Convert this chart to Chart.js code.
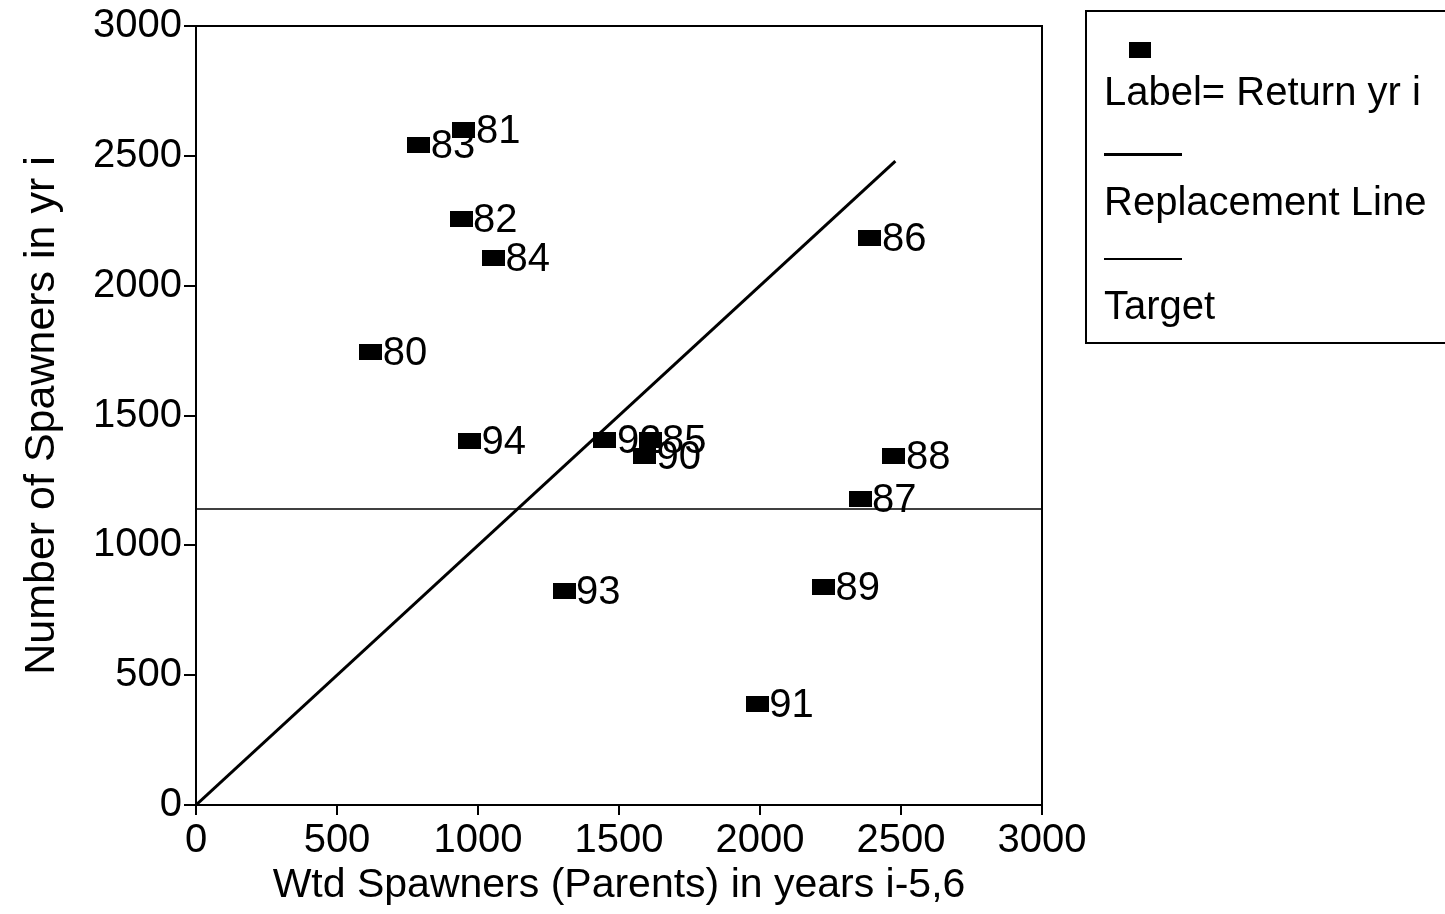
<!DOCTYPE html>
<html>
<head>
<meta charset="utf-8">
<script src="https://cdn.jsdelivr.net/npm/chart.js@4"></script>
<style>
  body { margin: 0; background: #fff; }
  #wrap { position: relative; width: 1445px; height: 914px; overflow: hidden; }
  #legendBox {
    position: absolute; left: 1085px; top: 10px; width: 400px; height: 330px;
    border: 2px solid #000; font-family: "Liberation Sans", Arial, sans-serif;
    font-size: 40px; color: #000;
  }
  #legendBox .mark { position: absolute; left: 42px; top: 30px; width: 22px; height: 16px; background: #000; }
  #legendBox .txt { position: absolute; left: 17px; white-space: nowrap; }
  #legendBox .ln { position: absolute; left: 17px; width: 78px; background: #000; }
</style>
</head>
<body>
<div id="wrap">
  <canvas id="srChart" width="1445" height="914"></canvas>
  <div id="legendBox">
    <div class="mark"></div>
    <div class="txt" style="top:57px">Label= Return yr i</div>
    <div class="ln" style="top:141px;height:3px"></div>
    <div class="txt" style="top:167px">Replacement Line</div>
    <div class="ln" style="top:246px;height:1.5px"></div>
    <div class="txt" style="top:271px">Target</div>
  </div>
</div>
<script>
// return years and spawner counts
const years = ['80', '81', '82', '83', '84', '85', '86', '87', '88', '89', '90', '91', '92', '93', '94'];
const parents = [620, 950, 940, 790, 1055, 1610, 2390, 2355, 2475, 2225, 1590, 1990, 1450, 1305, 970];
const spawners = [1745, 2600, 2255, 2540, 2105, 1405, 2185, 1180, 1345, 840, 1345, 390, 1405, 825, 1400];

const replacementX = [0, 2480];
const replacementY = [0, 2480];
const targetX = [0, 3000];
const targetY = [1140, 1140];

const tickValues = [0, 500, 1000, 1500, 2000, 2500, 3000];

// filled box used as point marker
const marker = document.createElement('canvas');
marker.width = 23;
marker.height = 16;
const mctx = marker.getContext('2d');
mctx.fillStyle = '#000';
mctx.fillRect(0, 0, 23, 16);

const toPoints = (xs, ys) => xs.map((x, i) => ({x: x, y: ys[i]}));

// year labels next to each marker, drawn under the markers
const yearLabels = {
    id: 'yearLabels',
    beforeDatasetsDraw(chart) {
        const ctx = chart.ctx;
        const meta = chart.getDatasetMeta(0);
        ctx.save();
        ctx.font = '40px "Liberation Sans", Arial, sans-serif';
        ctx.fillStyle = '#000';
        ctx.textBaseline = 'middle';
        meta.data.forEach(function(pt, i) {
            ctx.fillText(years[i], pt.x + 12, pt.y + 2);
        });
        ctx.restore();
    }
};

// closed frame round the plot area
const frame = {
    id: 'frame',
    afterDraw(chart) {
        const a = chart.chartArea;
        const ctx = chart.ctx;
        ctx.save();
        ctx.strokeStyle = '#000';
        ctx.lineWidth = 2;
        ctx.strokeRect(a.left, a.top, a.right - a.left, a.bottom - a.top);
        ctx.restore();
    }
};

const tickFont = {family: '"Liberation Sans", Arial, sans-serif', size: 40};

const ctx = document.getElementById('srChart').getContext('2d');
const myChart = new Chart(ctx, {
    type: 'scatter',
    data: {
        datasets: [{
            label: 'Spawners',
            data: toPoints(parents, spawners),
            pointStyle: marker,
            pointRadius: 10,
            order: 0
        }, {
            label: 'Replacement Line',
            type: 'line',
            data: toPoints(replacementX, replacementY),
            borderColor: '#000',
            borderWidth: 3,
            pointRadius: 0,
            fill: false,
            order: 1
        }, {
            label: 'Target',
            type: 'line',
            data: toPoints(targetX, targetY),
            borderColor: '#000',
            borderWidth: 1.5,
            pointRadius: 0,
            fill: false,
            order: 2
        }]
    },
    plugins: [yearLabels, frame],
    options: {
        responsive: false,
        animation: false,
        layout: {
            padding: {left: 16, top: 20, right: 403, bottom: 0}
        },
        plugins: {
            legend: {display: false},
            tooltip: {enabled: false}
        },
        scales: {
            x: {
                type: 'linear',
                min: 0,
                max: 3000,
                afterBuildTicks: function(axis) {
                    axis.ticks = tickValues.map(v => ({value: v}));
                },
                ticks: {color: '#000', font: tickFont, padding: 2, maxRotation: 0,
                        callback: v => String(v)},
                grid: {display: true, drawOnChartArea: false, color: '#000', tickLength: 10, lineWidth: 2},
                border: {color: '#000', width: 2},
                title: {
                    display: true,
                    text: 'Wtd Spawners (Parents) in years i-5,6',
                    color: '#000',
                    font: {family: '"Liberation Sans", Arial, sans-serif', size: 41},
                    padding: {top: 0, bottom: 4}
                },
                afterFit: function(axis) { axis.height = 109; }
            },
            y: {
                type: 'linear',
                min: 0,
                max: 3000,
                afterBuildTicks: function(axis) {
                    axis.ticks = tickValues.map(v => ({value: v}));
                },
                ticks: {color: '#000', font: tickFont, padding: 2,
                        callback: v => String(v)},
                grid: {display: true, drawOnChartArea: false, color: '#000', tickLength: 12, lineWidth: 2},
                border: {color: '#000', width: 2},
                title: {
                    display: true,
                    text: 'Number of Spawners in yr i',
                    color: '#000',
                    font: {family: '"Liberation Sans", Arial, sans-serif', size: 43},
                    padding: {top: 0, bottom: 6}
                },
                afterFit: function(axis) { axis.width = 180; }
            }
        }
    }
});
</script>
</body>
</html>
